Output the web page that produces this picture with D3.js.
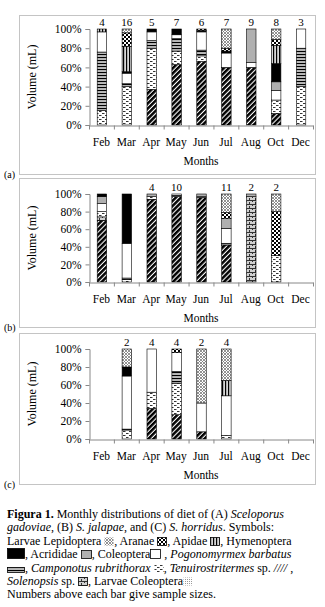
<!DOCTYPE html>
<html>
<head>
<meta charset="utf-8">
<script src="https://cdn.jsdelivr.net/npm/d3@7"></script>
<style>
  body { margin: 0; background: #fff; }
  #fig { position: absolute; left: 0; top: 0; }
  #cap {
    position: absolute; left: 7px; top: 508px;
    font: 12px "Liberation Serif", "Times New Roman", serif;
    line-height: 13.4px; white-space: nowrap; color: #000;
  }
  #cap svg { display: inline-block; vertical-align: -1px; }
</style>
</head>
<body>
<svg id="fig" width="325" height="607"></svg>
<div id="cap"></div>
<script>
const months = ["Feb", "Mar", "Apr", "May", "Jun", "Jul", "Aug", "Oct", "Dec"];
// stacking order, bottom -> top
const categories = ["Tenuirostritermes sp.", "Solenopsis sp.", "Camponotus rubrithorax",
  "Pogonomyrmex barbatus", "Coleoptera", "Acrididae", "Hymenoptera", "Apidae",
  "Aranae", "Larvae Lepidoptera", "Larvae Coleoptera"];
const yTicks = [0, 0.2, 0.4, 0.6, 0.8, 1];

// % volume per month (rows = months, cols = categories)
const dietA = [
  [0, 0, 15, 61, 21, 0, 0, 3, 0, 0, 0],
  [0, 0, 40, 3, 11, 0, 1.5, 26.5, 14, 4, 0],
  [37, 0, 43, 8, 9, 0, 3, 0, 0, 0, 0],
  [63, 0, 14, 13, 4, 0, 6, 0, 0, 0, 0],
  [66, 0, 6, 6, 19, 0, 1.5, 0, 1.5, 0, 0],
  [60, 0, 0, 0, 15, 0, 2, 0, 3, 20, 0],
  [60, 0, 0, 0, 5, 35, 0, 0, 0, 0, 0],
  [12, 0, 14, 0, 10, 9, 19, 19, 6, 11, 0],
  [0, 0, 40, 40, 20, 0, 0, 0, 0, 0, 0]
];
const dietB = [
  [70, 4, 6, 0, 9, 8, 3, 0, 0, 0, 0],
  [0, 0, 3, 1.5, 39.5, 0, 56, 0, 0, 0, 0],
  [94, 0, 3, 0, 0, 3, 0, 0, 0, 0, 0],
  [97, 0, 0, 1.5, 1.5, 0, 0, 0, 0, 0, 0],
  [96, 0, 0, 1, 0, 3, 0, 0, 0, 0, 0],
  [42, 0, 0, 2, 17, 11, 0, 0, 7, 21, 0],
  [0, 97, 0, 0, 0, 3, 0, 0, 0, 0, 0],
  [0, 0, 30, 0, 0, 0, 0, 0, 50, 20, 0],
  [0, 0, 0, 0, 0, 0, 0, 0, 0, 0, 0]
];
const dietC = [
  [0, 0, 0, 0, 0, 0, 0, 0, 0, 0, 0],
  [0, 0, 10, 1, 59, 0, 10, 0, 0, 20, 0],
  [34, 0, 18, 0, 48, 0, 0, 0, 0, 0, 0],
  [27, 0, 35, 13, 21, 0, 0, 0, 4, 0, 0],
  [8, 0, 0, 0, 32, 0, 0, 0, 0, 60, 0],
  [0, 0, 4, 0, 44, 0, 0, 17, 0, 35, 0],
  [0, 0, 0, 0, 0, 0, 0, 0, 0, 0, 0],
  [0, 0, 0, 0, 0, 0, 0, 0, 0, 0, 0],
  [0, 0, 0, 0, 0, 0, 0, 0, 0, 0, 0]
];
const nA = [4, 16, 5, 7, 6, 7, 9, 8, 3];
const nB = [null, null, 4, 10, null, 11, 2, 2, null];
const nC = [null, 2, 4, 4, 2, 4, null, null, null];

const patIds = ["tenui", "solen", "camp", "pogono", "col", "acrid", "hymen", "apidae", "aranae", "larvLep", "larvCol"];

const svg = d3.select("#fig");
const defs = svg.append("defs");
const serif = "'Liberation Serif', 'Times New Roman', serif";

function pattern(id, w, h, draw, transform) {
  const p = defs.append("pattern").attr("id", id)
    .attr("patternUnits", "userSpaceOnUse").attr("width", w).attr("height", h);
  if (transform) p.attr("patternTransform", transform);
  p.append("rect").attr("width", w).attr("height", h).attr("fill", "#fff");
  draw(p);
}
pattern("tenui", 3.6, 4, p => p.append("rect").attr("width", 2.5).attr("height", 4).attr("fill", "#000"), "rotate(45)");
pattern("solen", 6, 4, p => {
  p.append("rect").attr("width", 6).attr("height", 4).attr("fill", "#d0d0d0");
  p.append("rect").attr("width", 6).attr("height", 1).attr("fill", "#333");
  p.append("rect").attr("x", 0).attr("y", 0).attr("width", 1).attr("height", 2).attr("fill", "#333");
  p.append("rect").attr("x", 3).attr("y", 2).attr("width", 1).attr("height", 2).attr("fill", "#333");
});
pattern("camp", 6, 4, p => {
  p.append("rect").attr("x", 0).attr("y", 1).attr("width", 2.5).attr("height", 1).attr("fill", "#333");
  p.append("rect").attr("x", 3).attr("y", 3).attr("width", 2.5).attr("height", 1).attr("fill", "#333");
});
pattern("pogono", 4, 3, p => {
  p.append("rect").attr("width", 4).attr("height", 1.2).attr("fill", "#000");
  p.append("rect").attr("y", 1.7).attr("width", 4).attr("height", 0.8).attr("fill", "#777");
});
pattern("col", 4, 4, () => {});
pattern("acrid", 4, 4, p => p.append("rect").attr("width", 4).attr("height", 4).attr("fill", "#b0b0b0"));
pattern("hymen", 4, 4, p => p.append("rect").attr("width", 4).attr("height", 4).attr("fill", "#000"));
pattern("apidae", 3, 4, p => {
  p.append("rect").attr("width", 1.1).attr("height", 4).attr("fill", "#000");
  p.append("rect").attr("x", 1.5).attr("width", 0.8).attr("height", 4).attr("fill", "#777");
});
pattern("aranae", 4, 4, p => {
  p.append("rect").attr("width", 2).attr("height", 2).attr("fill", "#000");
  p.append("rect").attr("x", 2).attr("y", 2).attr("width", 2).attr("height", 2).attr("fill", "#000");
});
pattern("larvLep", 3, 3, p => {
  p.append("path").attr("d", "M0,0L3,3M3,0L0,3").attr("stroke", "#777").attr("stroke-width", 0.8);
});
pattern("larvCol", 2, 2, p => p.append("rect").attr("width", 1).attr("height", 1).attr("fill", "#999"));

const panels = [
  { diet: dietA, n: nA, label: "(a)", frame: [19, 15, 315, 174], top: 29, bottom: 125 },
  { diet: dietB, n: nB, label: "(b)", frame: [19, 178, 315, 327], top: 194, bottom: 282 },
  { diet: dietC, n: nC, label: "(c)", frame: [19, 333, 315, 484], top: 349, bottom: 439 }
];

const x = d3.scaleBand().domain(months).range([89, 313]).paddingInner(0.62).paddingOuter(0.31);
const stack = d3.stack().keys(d3.range(categories.length))
  .value((row, k) => row[k]).offset(d3.stackOffsetExpand);

panels.forEach(pn => {
  const g = svg.append("g");
  const [fx0, fy0, fx1, fy1] = pn.frame;
  g.append("rect").attr("x", fx0 + 0.5).attr("y", fy0 + 0.5)
    .attr("width", fx1 - fx0).attr("height", fy1 - fy0)
    .attr("fill", "none").attr("stroke", "#c4c4c4");

  const y = d3.scaleLinear().domain([0, 1]).range([pn.bottom, pn.top]);
  const series = stack(pn.diet);

  g.selectAll("g.s").data(series).join("g").attr("class", "s")
    .attr("fill", s => `url(#${patIds[s.key]})`)
    .selectAll("rect")
    .data(s => s.map((d, i) => ({ d, m: months[i] })).filter(o => o.d[1] - o.d[0] > 0))
    .join("rect")
    .attr("x", o => x(o.m) + 0.5)
    .attr("width", x.bandwidth())
    .attr("y", o => y(o.d[1]))
    .attr("height", o => y(o.d[0]) - y(o.d[1]))
    .attr("stroke", "#000").attr("stroke-width", 0.6);

  // y axis
  const ya = g.append("g").attr("transform", "translate(89.5,0)")
    .call(d3.axisLeft(y).tickValues(yTicks).tickFormat(d3.format(".0%")).tickSize(4).tickPadding(4));
  ya.select(".domain").attr("stroke", "#888");
  ya.selectAll(".tick line").attr("stroke", "#888");
  ya.selectAll("text").attr("font-family", serif).attr("font-size", 11.5).attr("fill", "#000");

  // x axis
  const xa = g.append("g").attr("transform", `translate(0,${pn.bottom + 0.5})`)
    .call(d3.axisBottom(x).tickSize(0).tickPadding(12));
  xa.select(".domain").attr("stroke", "#888");
  xa.selectAll("text").attr("font-family", serif).attr("font-size", 11.5).attr("fill", "#000");
  const step = x.step();
  const bounds = months.map(m => x(m) - step * x.paddingInner() / 2).concat([x.range()[1]]);
  xa.selectAll("line.b").data(bounds).join("line").attr("class", "b")
    .attr("x1", d => d + 0.5).attr("x2", d => d + 0.5).attr("y1", 0).attr("y2", 4)
    .attr("stroke", "#888");

  // sample sizes
  g.selectAll("text.n").data(months.map((m, i) => ({ m, n: pn.n[i] })).filter(o => o.n != null))
    .join("text").attr("class", "n")
    .attr("x", o => x(o.m) + x.bandwidth() / 2 + 0.5)
    .attr("y", pn.top - 3)
    .attr("text-anchor", "middle").attr("font-family", serif).attr("font-size", 11)
    .text(o => o.n);

  g.append("text").attr("x", (x.range()[0] + x.range()[1]) / 2).attr("y", pn.bottom + 40)
    .attr("text-anchor", "middle").attr("font-family", serif).attr("font-size", 11.5)
    .text("Months");

  g.append("text").attr("transform", `translate(36,${(pn.top + pn.bottom) / 2}) rotate(-90)`)
    .attr("text-anchor", "middle").attr("font-family", serif).attr("font-size", 12)
    .text("Volume (mL)");

  g.append("text").attr("x", 4).attr("y", fy1 + 4).attr("font-family", serif).attr("font-size", 10)
    .text(pn.label);
});

// caption with inline swatches
function sw(id, w = 10, h = 9) {
  const edge = (id === "larvLep" || id === "larvCol" || id === "camp") ? "none" : "#000";
  return `<svg width="${w}" height="${h}"><rect x="0.5" y="0.5" width="${w - 1}" height="${h - 1}" fill="url(#${id})" stroke="${edge}" stroke-width="0.8"/></svg>`;
}
const capLines = [
  `<b>Figura 1.</b> Monthly distributions of diet of (A) <i>Sceloporus</i>`,
  `<i>gadoviae</i>, (B) <i>S. jalapae</i>, and (C) <i>S. horridus</i>. Symbols:`,
  `Larvae Lepidoptera ${sw("larvLep")}, Aranae ${sw("aranae")}, Apidae ${sw("apidae")}, Hymenoptera`,
  `${sw("hymen", 18, 11)}, Acrididae ${sw("acrid", 11, 9)}, Coleoptera${sw("col", 11, 10)} , <i>Pogonomyrmex barbatus</i>`,
  `${sw("pogono", 18, 6)}, <i>Camponotus rubrithorax</i> ${sw("camp")}, <i>Tenuirostritermes</i> sp. <i>////</i> ,`,
  `<i>Solenopsis</i> sp. ${sw("solen")}, Larvae Coleoptera${sw("larvCol")}`,
  `Numbers above each bar give sample sizes.`
];
d3.select("#cap").html(capLines.join("<br>"));
</script>
</body>
</html>
